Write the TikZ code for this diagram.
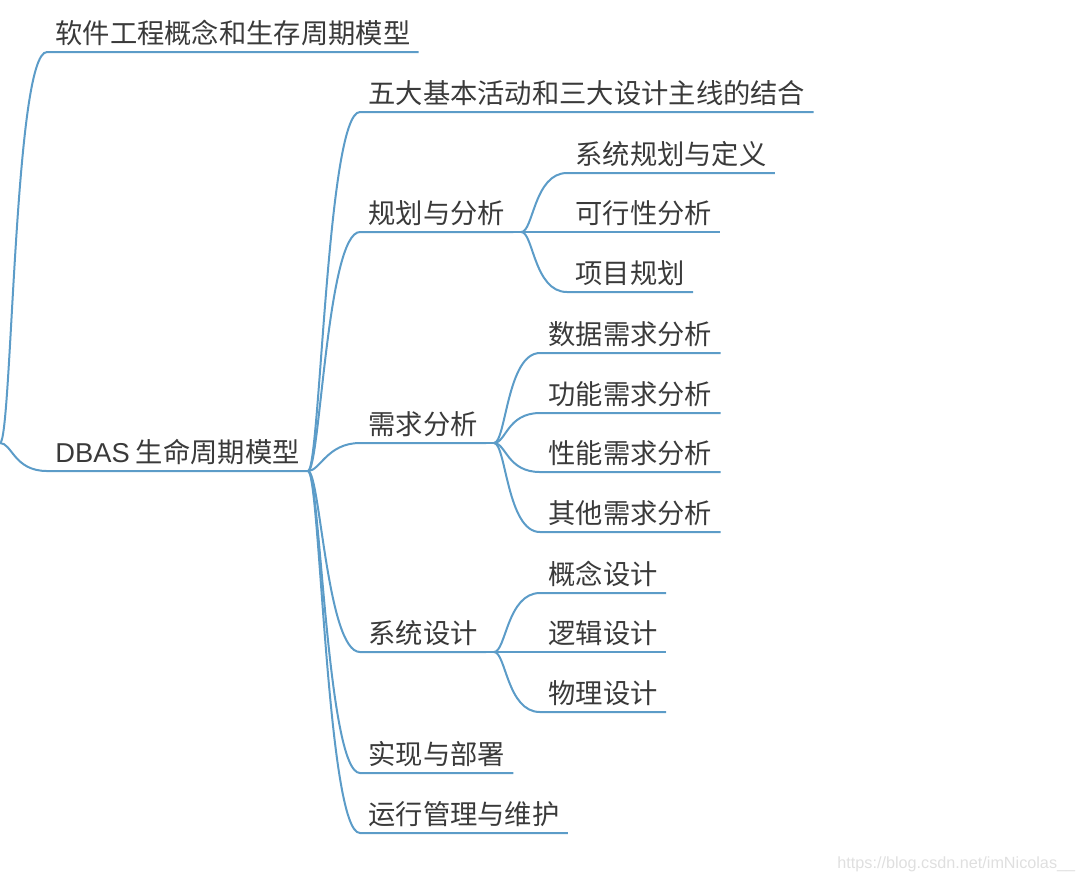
\documentclass[tikz,border=0pt]{standalone}
\usepackage{fontspec}
\setmainfont{Noto Sans CJK SC}
\newfontfamily\markfont{Liberation Sans}
\definecolor{branchblue}{RGB}{92,156,200}
\definecolor{topictext}{RGB}{58,58,58}
\tikzset{
  topic/.style={anchor=south west, inner xsep=4pt, inner ysep=4.3pt,
    text depth=0pt, text=topictext, font=\fontsize{13.65pt}{16pt}\selectfont},
  limb/.style={draw=branchblue, line width=1pt},
  twig/.style={to path={.. controls +(12,0) and +(-33,0) .. (\tikztotarget)}},
}
\begin{document}
\begin{tikzpicture}[x=0.5pt, y=-0.5pt]
  \useasboundingbox (0,0) rectangle (1080,880);
  % root and its two topics
  \coordinate (root) at (0,443);
  \node[topic] (concept-sw) at (47,52) {软件工程概念和生存周期模型};
  \node[topic] (dbas) at (47,471) {{\markfont DBAS} 生命周期模型};
  \draw[limb] (root) to[twig] (concept-sw.south west) -- (concept-sw.south east);
  \draw[limb] (root) to[twig] (dbas.south west) -- (dbas.south east);
  % second level
  \node[topic] (five) at (360,112) {五大基本活动和三大设计主线的结合};
  \node[topic] (plan) at (360,232) {规划与分析};
  \node[topic] (req) at (360,443) {需求分析};
  \node[topic] (design) at (360,652) {系统设计};
  \node[topic] (deploy) at (360,773) {实现与部署};
  \node[topic] (ops) at (360,833) {运行管理与维护};
  \foreach \n in {five,plan,req,design,deploy,ops}
    \draw[limb] (dbas.south east) to[twig] (\n.south west) -- (\n.south east);
  \foreach \n in {plan,req,design}
    \draw[limb] (\n.south east) -- ([xshift=4pt]\n.south east) coordinate (\n-j);
  % third level
  \node[topic] (sysdef) at (567,173) {系统规划与定义};
  \node[topic] (feasible) at (567,232) {可行性分析};
  \node[topic] (project) at (567,292) {项目规划};
  \node[topic] (datareq) at (540,353) {数据需求分析};
  \node[topic] (funcreq) at (540,413) {功能需求分析};
  \node[topic] (perfreq) at (540,472) {性能需求分析};
  \node[topic] (otherreq) at (540,532) {其他需求分析};
  \node[topic] (concept) at (540,593) {概念设计};
  \node[topic] (logic) at (540,652) {逻辑设计};
  \node[topic] (physic) at (540,712) {物理设计};
  \foreach \n in {sysdef,feasible,project}
    \draw[limb] (plan-j) to[twig] (\n.south west) -- (\n.south east);
  \foreach \n in {datareq,funcreq,perfreq,otherreq}
    \draw[limb] (req-j) to[twig] (\n.south west) -- (\n.south east);
  \foreach \n in {concept,logic,physic}
    \draw[limb] (design-j) to[twig] (\n.south west) -- (\n.south east);
  % watermark
  \node[anchor=base west, inner sep=0pt, text=gray!25,
    font=\markfont\fontsize{8.1pt}{10pt}\selectfont] (mark) at (837,868)
    {https://blog.csdn.net/imNicolas\_\_};
\end{tikzpicture}
\end{document}
